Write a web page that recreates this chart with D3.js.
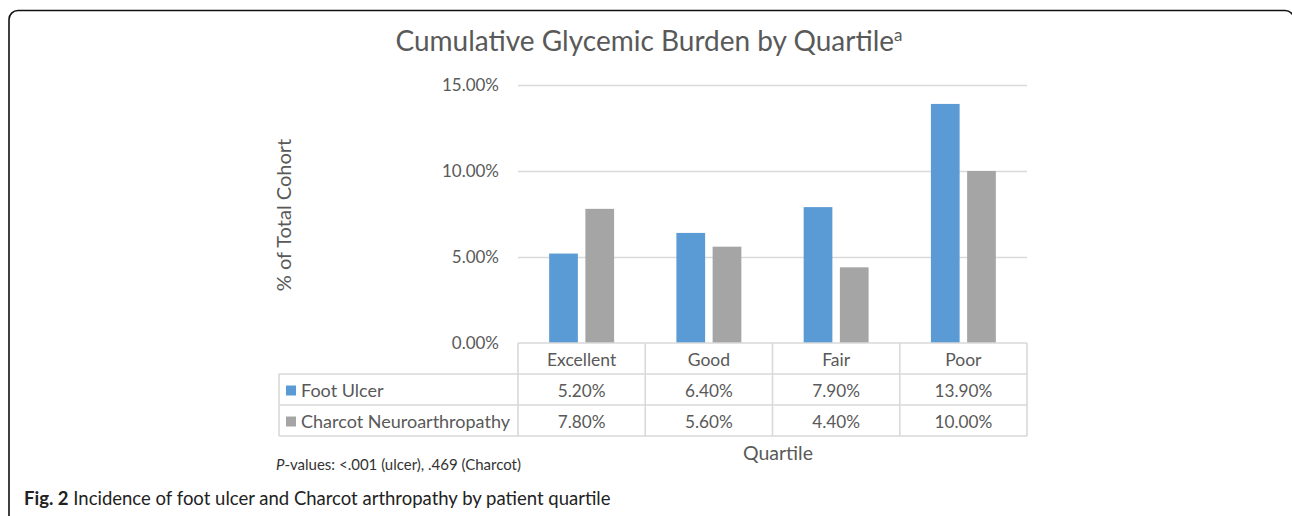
<!DOCTYPE html>
<html><head><meta charset="utf-8">
<script src="https://cdn.jsdelivr.net/npm/d3@7/dist/d3.min.js"></script>
<style>
body{margin:0;background:#fff;}
svg{display:block;}
text{font-family:Lato, "Open Sans", sans-serif;}
</style></head>
<body>
<svg id="c" width="1292" height="516"></svg>
<script>
const categories = ["Excellent", "Good", "Fair", "Poor"];
const seriesNames = ["Foot Ulcer", "Charcot Neuroarthropathy"];
const footUlcer = [5.2, 6.4, 7.9, 13.9];
const charcot = [7.8, 5.6, 4.4, 10.0];
const tickValues = [0, 5, 10, 15];
const colors = ["#5B9BD5", "#A5A5A5"];
const series = [footUlcer, charcot];

const svg = d3.select("#c");
const plotL = 518, plotR = 1027, plotT = 85, plotB = 343;
const tableL = 279, rowH = 31;

// frame
svg.append("rect").attr("x", 9).attr("y", 10.5).attr("width", 1285).attr("height", 540)
  .attr("rx", 9).attr("fill", "none").attr("stroke", "#111").attr("stroke-width", 1.6);

const x = d3.scaleBand().domain(categories).range([plotL, plotR]).paddingInner(0).paddingOuter(0);
const y = d3.scaleLinear().domain([0, 15]).range([plotB, plotT]);
const xs = d3.scaleBand().domain([0, 1]).range([0, x.bandwidth()]).paddingInner(0.207).paddingOuter(0.86);

// title
const title = svg.append("text").attr("x", 649).attr("y", 51).attr("text-anchor", "middle")
  .attr("fill", "#595959").attr("font-size", 28);
title.append("tspan").text("Cumulative Glycemic Burden by Quartile");
title.append("tspan").text("a").attr("font-size", 17).attr("dy", -10);

// y axis with gridlines
const yAxis = d3.axisLeft(y).tickValues(tickValues).tickSize(-(plotR - plotL)).tickPadding(19)
  .tickFormat(d => d.toFixed(2) + "%");
const gy = svg.append("g").attr("transform", `translate(${plotL},0)`).call(yAxis);
gy.select(".domain").remove();
gy.selectAll(".tick line").attr("stroke", "#D9D9D9").attr("stroke-width", 1.5)
  .filter(d => d === 0).remove();
gy.selectAll(".tick text").attr("fill", "#595959").attr("font-size", 17)
  .attr("font-family", "Lato, sans-serif").attr("dy", "0.34em");

// y axis title
svg.append("text").attr("transform", "translate(291,215) rotate(-90)").attr("text-anchor", "middle")
  .attr("fill", "#595959").attr("font-size", 20).text("% of Total Cohort");

// bars
series.forEach((vals, si) => {
  svg.append("g").selectAll("rect").data(vals).join("rect")
    .attr("x", (d, i) => x(categories[i]) + xs(si))
    .attr("width", xs.bandwidth())
    .attr("y", d => y(d))
    .attr("height", d => y(0) - y(d))
    .attr("fill", colors[si]);
});

// data table
const tg = svg.append("g");
const lc = "#D9D9D9";
const line = (x1, y1, x2, y2) => tg.append("line").attr("x1", x1).attr("y1", y1).attr("x2", x2).attr("y2", y2)
  .attr("stroke", lc).attr("stroke-width", 1.6);
line(plotL, plotB, plotR, plotB);
[1, 2, 3].forEach(k => line(tableL, plotB + rowH * k, plotR, plotB + rowH * k));
line(tableL, plotB + rowH, tableL, plotB + rowH * 3);
categories.forEach(c => line(x(c), plotB, x(c), plotB + rowH * 3));
line(plotR, plotB, plotR, plotB + rowH * 3);

tg.selectAll("text.cat").data(categories).join("text").attr("class", "cat")
  .attr("x", d => x(d) + x.bandwidth() / 2).attr("y", plotB + rowH / 2 + 1)
  .attr("dy", "0.35em").attr("text-anchor", "middle").attr("fill", "#595959").attr("font-size", 17.5).text(d => d);

series.forEach((vals, si) => {
  const cy = plotB + rowH * (si + 1) + rowH / 2 + 1;
  tg.append("rect").attr("x", tableL + 7).attr("y", cy - 5).attr("width", 10).attr("height", 10).attr("fill", colors[si]);
  tg.append("text").attr("x", tableL + 22).attr("y", cy).attr("dy", "0.35em").attr("fill", "#595959")
    .attr("font-size", 18).text(seriesNames[si]);
  tg.selectAll(null).data(vals).join("text")
    .attr("x", (d, i) => x(categories[i]) + x.bandwidth() / 2).attr("y", cy).attr("dy", "0.35em")
    .attr("text-anchor", "middle").attr("fill", "#595959").attr("font-size", 17.2)
    .text(d => d.toFixed(2) + "%");
});

// x axis title
svg.append("text").attr("x", 778).attr("y", 460).attr("text-anchor", "middle")
  .attr("fill", "#595959").attr("font-size", 19.5).text("Quartile");

// p-values note
const pv = svg.append("text").attr("x", 276).attr("y", 470).attr("fill", "#333").attr("font-size", 15)
  .attr("font-family", "'Open Sans', sans-serif");
pv.append("tspan").attr("font-style", "italic").text("P");
pv.append("tspan").text("-values: <.001 (ulcer), .469 (Charcot)");

// caption
const cap = svg.append("text").attr("x", 24).attr("y", 505).attr("fill", "#222").attr("font-size", 18.5)
  .attr("font-family", "'Open Sans', sans-serif");
cap.append("tspan").attr("font-weight", "bold").text("Fig. 2");
cap.append("tspan").text(" Incidence of foot ulcer and Charcot arthropathy by patient quartile");
</script>
</body></html>
